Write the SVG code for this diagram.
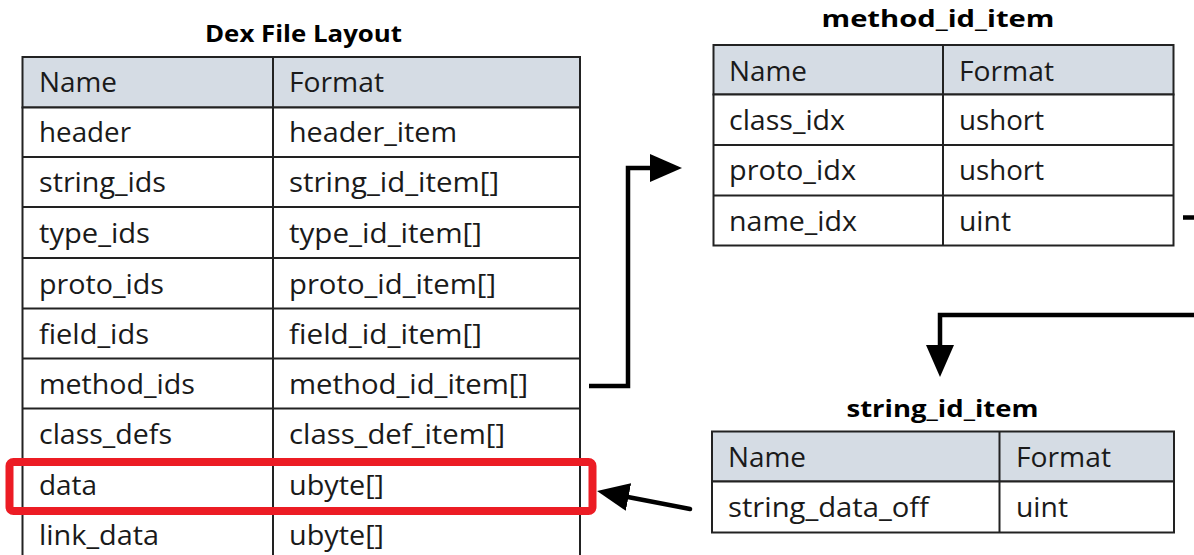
<svg xmlns="http://www.w3.org/2000/svg" width="1194" height="555" viewBox="0 0 1194 555">
  <style>
    .cell { fill: #ffffff; stroke: #222222; stroke-width: 2; }
    .head { fill: #d5dce4; stroke: #222222; stroke-width: 2; }
    .grid { stroke: #222222; stroke-width: 2; fill: none; }
    .txt { font-family: "Open Sans", "Noto Sans", sans-serif; font-size: 27px; fill: #1a1a1a; }
    .title { font-family: "Open Sans", "Noto Sans", sans-serif; font-size: 23px; font-weight: bold; fill: #000000; text-anchor: middle; }
    .conn { stroke: #000000; stroke-width: 4.5; fill: none; stroke-linejoin: miter; }
    .hl { fill: none; stroke: #ec1c24; stroke-width: 8; }
  </style>
  <defs>
    <marker id="arrow" markerUnits="userSpaceOnUse" markerWidth="32" markerHeight="28" viewBox="0 0 32 28" refX="2" refY="14" orient="auto">
      <path d="M0,0 L32,14 L0,28 Z" fill="#000000"/>
    </marker>
  </defs>
  <rect width="1194" height="555" fill="#ffffff"/>

  <!-- Dex File Layout table -->
  <g id="dex-file-layout">
    <text class="title" x="303.5" y="42" textLength="197" lengthAdjust="spacingAndGlyphs">Dex File Layout</text>
    <rect class="head" x="22.5" y="57" width="557.5" height="50.5"/>
    <rect class="cell" x="22.5" y="107.5" width="557.5" height="460"/>
    <path class="grid" d="M273,57 V567 M22.5,157 H580 M22.5,207 H580 M22.5,258 H580 M22.5,308.5 H580 M22.5,358.5 H580 M22.5,408.5 H580 M22.5,459 H580 M22.5,509 H580"/>
    <g class="txt" lengthAdjust="spacingAndGlyphs">
      <text x="39" y="92" textLength="78" lengthAdjust="spacingAndGlyphs">Name</text>
      <text x="289" y="92" textLength="95" lengthAdjust="spacingAndGlyphs">Format</text>
      <text x="39" y="142" textLength="92" lengthAdjust="spacingAndGlyphs">header</text>
      <text x="289" y="142" textLength="168" lengthAdjust="spacingAndGlyphs">header_item</text>
      <text x="39" y="192" textLength="127" lengthAdjust="spacingAndGlyphs">string_ids</text>
      <text x="289" y="192" textLength="210" lengthAdjust="spacingAndGlyphs">string_id_item[]</text>
      <text x="39" y="243" textLength="111" lengthAdjust="spacingAndGlyphs">type_ids</text>
      <text x="289" y="243" textLength="193" lengthAdjust="spacingAndGlyphs">type_id_item[]</text>
      <text x="39" y="293.5" textLength="125" lengthAdjust="spacingAndGlyphs">proto_ids</text>
      <text x="289" y="293.5" textLength="207" lengthAdjust="spacingAndGlyphs">proto_id_item[]</text>
      <text x="39" y="343.5" textLength="110" lengthAdjust="spacingAndGlyphs">field_ids</text>
      <text x="289" y="343.5" textLength="193" lengthAdjust="spacingAndGlyphs">field_id_item[]</text>
      <text x="39" y="394" textLength="156" lengthAdjust="spacingAndGlyphs">method_ids</text>
      <text x="289" y="394" textLength="239" lengthAdjust="spacingAndGlyphs">method_id_item[]</text>
      <text x="39" y="444" textLength="133" lengthAdjust="spacingAndGlyphs">class_defs</text>
      <text x="289" y="444" textLength="216" lengthAdjust="spacingAndGlyphs">class_def_item[]</text>
      <text x="39" y="494.5" textLength="58" lengthAdjust="spacingAndGlyphs">data</text>
      <text x="289" y="494.5" textLength="95" lengthAdjust="spacingAndGlyphs">ubyte[]</text>
      <text x="39" y="544.5" textLength="120" lengthAdjust="spacingAndGlyphs">link_data</text>
      <text x="289" y="544.5" textLength="95" lengthAdjust="spacingAndGlyphs">ubyte[]</text>
    </g>
  </g>

  <!-- Highlight of data row -->
  <g id="data-highlight">
    <rect class="hl" x="9.5" y="462" width="583" height="49" rx="4" ry="4"/>
  </g>

  <!-- method_id_item table -->
  <g id="method-id-item">
    <text class="title" x="938" y="27" textLength="233" lengthAdjust="spacingAndGlyphs">method_id_item</text>
    <rect class="head" x="713.5" y="45" width="460" height="49.5"/>
    <rect class="cell" x="713.5" y="94.5" width="460" height="151"/>
    <path class="grid" d="M943,45 V245.5 M713.5,145 H1173.5 M713.5,195.5 H1173.5"/>
    <g class="txt">
      <text x="729" y="81" textLength="78" lengthAdjust="spacingAndGlyphs">Name</text>
      <text x="959" y="81" textLength="95" lengthAdjust="spacingAndGlyphs">Format</text>
      <text x="729" y="129.5" textLength="116" lengthAdjust="spacingAndGlyphs">class_idx</text>
      <text x="959" y="129.5" textLength="85" lengthAdjust="spacingAndGlyphs">ushort</text>
      <text x="729" y="180" textLength="127" lengthAdjust="spacingAndGlyphs">proto_idx</text>
      <text x="959" y="180" textLength="85" lengthAdjust="spacingAndGlyphs">ushort</text>
      <text x="729" y="230.5" textLength="128" lengthAdjust="spacingAndGlyphs">name_idx</text>
      <text x="959" y="230.5" textLength="52" lengthAdjust="spacingAndGlyphs">uint</text>
    </g>
  </g>

  <!-- string_id_item table -->
  <g id="string-id-item">
    <text class="title" x="942.5" y="417" textLength="192" lengthAdjust="spacingAndGlyphs">string_id_item</text>
    <rect class="head" x="712" y="431.5" width="462" height="50"/>
    <rect class="cell" x="712" y="481.5" width="462" height="51"/>
    <path class="grid" d="M999.5,431.5 V532.5"/>
    <g class="txt">
      <text x="728" y="467" textLength="78" lengthAdjust="spacingAndGlyphs">Name</text>
      <text x="1016" y="467" textLength="95" lengthAdjust="spacingAndGlyphs">Format</text>
      <text x="728" y="517" textLength="201" lengthAdjust="spacingAndGlyphs">string_data_off</text>
      <text x="1016" y="517" textLength="52" lengthAdjust="spacingAndGlyphs">uint</text>
    </g>
  </g>

  <!-- Connectors -->
  <g id="connectors">
    <path class="conn" d="M589,386 H628 V168 H652" marker-end="url(#arrow)"/>
    <path class="conn" d="M1183,217.5 H1194"/>
    <path class="conn" d="M1194,315 H940 V347" marker-end="url(#arrow)"/>
    <path class="conn" d="M690,509 L626.5,496.7" marker-end="url(#arrow)" stroke-linecap="round"/>
  </g>
</svg>
